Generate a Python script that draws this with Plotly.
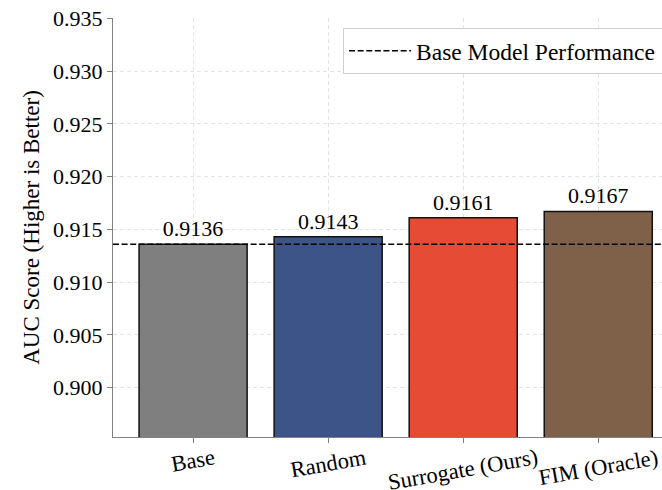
import plotly.graph_objects as go

categories = ["Base", "Random", "Surrogate (Ours)", "FIM (Oracle)"]
auc_values = [0.9136, 0.9143, 0.9161, 0.9167]
bar_colors = ["#7f7f7f", "#3c5488", "#e64b35", "#7e6148"]
base_value = auc_values[0]
y_ticks = [0.900, 0.905, 0.910, 0.915, 0.920, 0.925, 0.930, 0.935]

FONT = "Liberation Serif, Times New Roman, serif"

fig = go.Figure()
fig.add_trace(go.Bar(
    x=list(range(len(categories))),
    y=auc_values,
    width=0.8,
    marker=dict(color=bar_colors, line=dict(color="#111111", width=1.5)),
    text=[f"{v:.4f}" for v in auc_values],
    textposition="outside",
    textfont=dict(family=FONT, size=22, color="black"),
    cliponaxis=False,
    showlegend=False,
))

fig.add_hline(y=base_value, line=dict(color="black", width=1.5, dash="6px,2.6px"),
              showlegend=True, name="Base Model Performance&nbsp;&nbsp;&nbsp;",
              layer="above")

# rotated category labels (centered like matplotlib rotation)
for i, lab in enumerate(categories):
    fig.add_annotation(x=i, xref="x", y=0, yref="paper", text=lab, showarrow=False,
                       textangle=-10, xanchor="center", yanchor="top", yshift=-5,
                       font=dict(family=FONT, size=22.5, color="black"))

ymin = min(auc_values) * 0.98
ymax = max(auc_values) * 1.02

fig.update_layout(
    width=662, height=490,
    margin=dict(l=113, r=0, t=18, b=53, autoexpand=False),
    plot_bgcolor="white", paper_bgcolor="white",
    font=dict(family=FONT, size=22, color="black"),
    bargap=0.2,
    legend=dict(x=0.419, y=0.976, xanchor="left", yanchor="top",
                bgcolor="white", bordercolor="#d0d0d0", borderwidth=1,
                itemwidth=62,
                font=dict(family=FONT, size=23.5, color="black")),
    showlegend=True,
)
fig.update_xaxes(
    range=[-0.593, 3.472], automargin=False,
    tickmode="array", tickvals=list(range(len(categories))),
    showticklabels=False,
    ticks="outside", ticklen=5, tickcolor="#808080",
    showline=True, linecolor="#808080", linewidth=1.3,
    showgrid=True, gridcolor="#e3e3e3", griddash="4px,3px", gridwidth=1,
    zeroline=False,
)
fig.update_yaxes(
    range=[ymin, ymax], automargin=False,
    tickmode="array", tickvals=y_ticks, ticktext=[f"{t:.3f}" for t in y_ticks],
    tickfont=dict(family=FONT, size=22, color="black"),
    ticks="outside", ticklen=5, tickcolor="#808080",
    showline=True, linecolor="#808080", linewidth=1.3,
    showgrid=True, gridcolor="#e3e3e3", griddash="4px,3px", gridwidth=1,
    zeroline=False,
    title=dict(text="AUC Score (Higher is Better)", standoff=6,
               font=dict(family=FONT, size=23, color="black")),
)

fig.write_html("out.html")
